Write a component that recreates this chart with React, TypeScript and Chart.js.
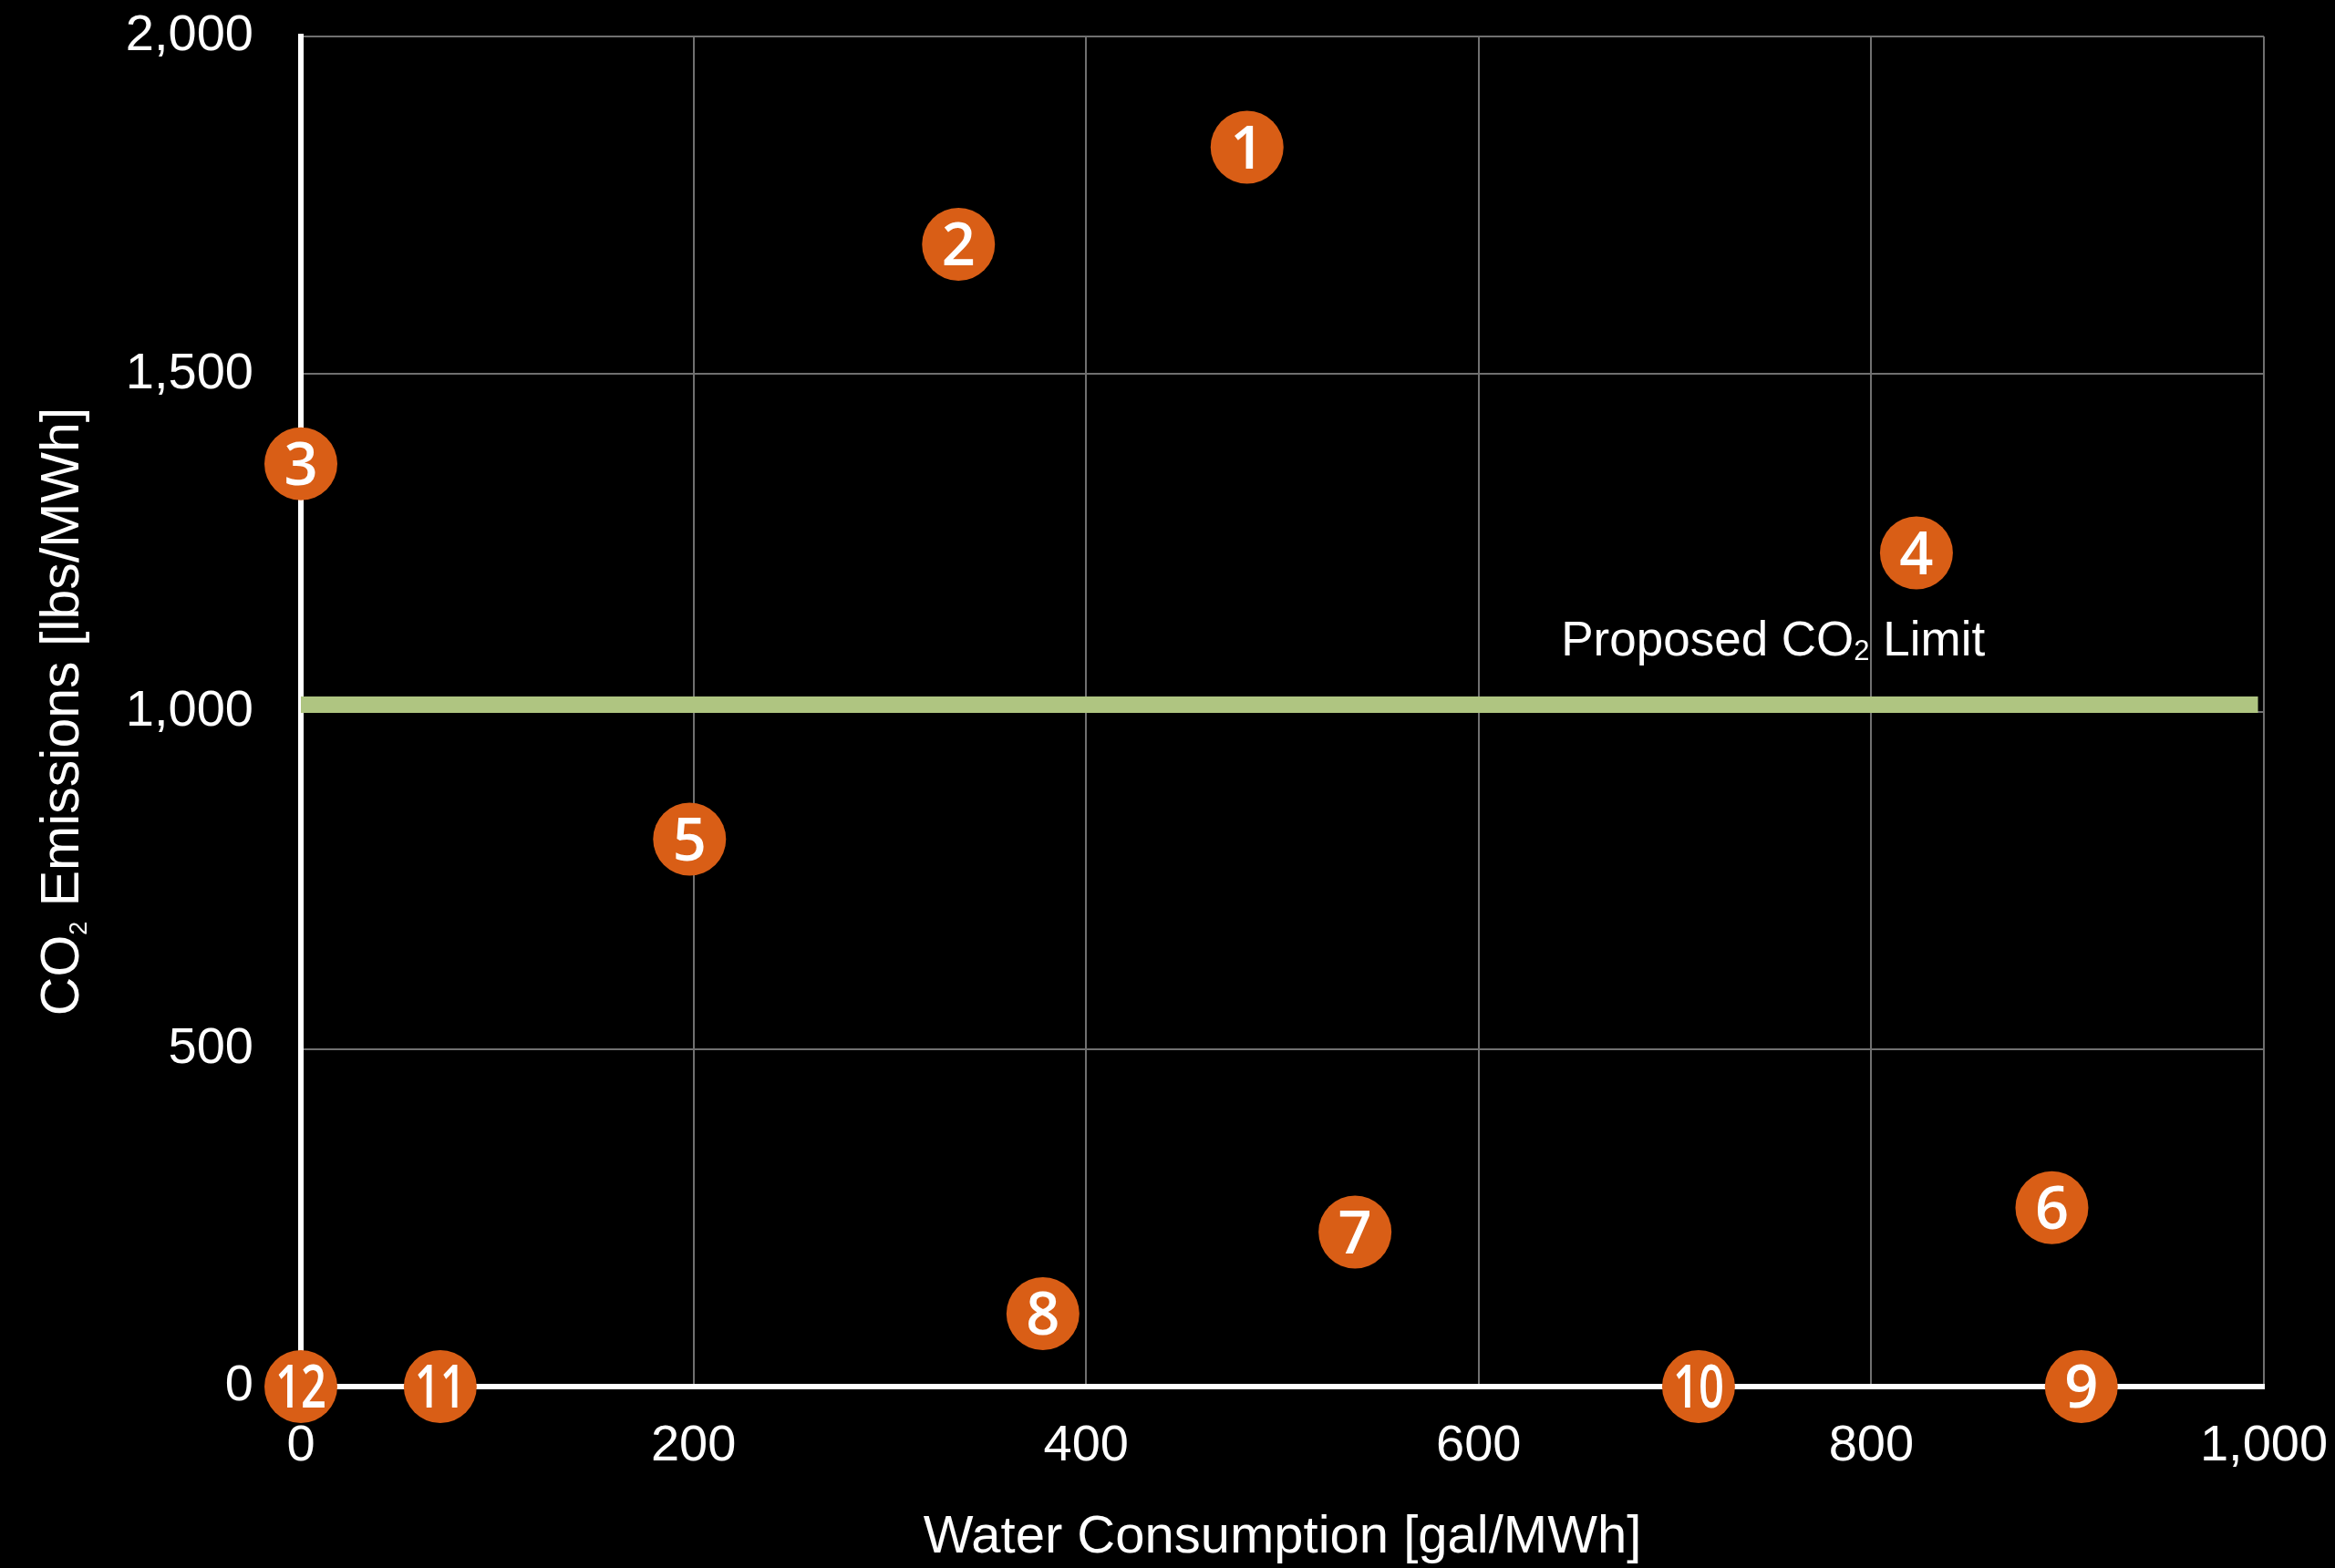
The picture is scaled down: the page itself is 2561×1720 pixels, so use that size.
import { useEffect, useRef } from 'react';
import { Chart, registerables } from 'chart.js';

Chart.register(...registerables);

// Power plant identifiers shown inside each marker
const plantIds = [1, 2, 3, 4, 5, 6, 7, 8, 9, 10, 11, 12];
// Water consumption per plant [gal/MWh]
const waterUse = [482, 335, 0, 823, 198, 892, 537, 378, 907, 712, 71, 0];
// CO2 emissions per plant [lbs/MWh]
const co2Emissions = [1836, 1692, 1367, 1235, 811, 265, 229, 108, 0, 0, 0, 0];

// Proposed emission limit and the water range it spans
const co2Limit = 1010;
const limitSpan = [0, 997];

// Axis ranges and tick spacing
const xRange = [0, 1000];
const xStep = 200;
const yRange = [0, 2000];
const yStep = 500;

const SANS = '"Liberation Sans", Arial, Helvetica, sans-serif';
const ORANGE = '#D95E16';
const GREEN = '#AFC581';
const GRID = '#707070';

const fmt = (v: number) => Number(v).toLocaleString('en-US');

const background = {
  id: 'background',
  beforeDraw(chart: any) {
    const { ctx, width, height } = chart;
    ctx.save();
    ctx.fillStyle = '#000';
    ctx.fillRect(0, 0, width, height);
    ctx.restore();
  },
};

type Run = { t: string; size: number; dy: number };

// Draws text runs with optional subscript pieces, starting at (x, y) baseline
function drawRuns(ctx: CanvasRenderingContext2D, runs: Run[], x: number, y: number) {
  let cx = x;
  for (const r of runs) {
    ctx.font = `${r.size}px ${SANS}`;
    ctx.fillText(r.t, cx, y + r.dy);
    cx += ctx.measureText(r.t).width;
  }
}
function runsWidth(ctx: CanvasRenderingContext2D, runs: Run[]) {
  let w = 0;
  for (const r of runs) {
    ctx.font = `${r.size}px ${SANS}`;
    w += ctx.measureText(r.t).width;
  }
  return w;
}

const annotations = {
  id: 'annotations',
  afterDatasetsDraw(chart: any) {
    const { ctx, scales } = chart;
    ctx.save();
    ctx.fillStyle = '#fff';
    ctx.textAlign = 'left';
    ctx.textBaseline = 'alphabetic';

    // Limit label above the green line
    const labelRuns: Run[] = [
      { t: 'Proposed CO', size: 53, dy: 0 },
      { t: '2', size: 31, dy: 5 },
      { t: ' Limit', size: 53, dy: 0 },
    ];
    const lx = scales.x.getPixelForValue(642);
    const ly = scales.y.getPixelForValue(co2Limit) - 54;
    drawRuns(ctx, labelRuns, lx, ly);

    // Plant numbers inside markers
    const meta = chart.getDatasetMeta(1);
    const size = 65;
    ctx.font = `600 ${size}px "Open Sans", Lato, sans-serif`;
    ctx.textAlign = 'center';
    meta.data.forEach((pt: any, i: number) => {
      const label = String(plantIds[i]);
      const w = ctx.measureText(label).width;
      const maxW = 56;
      const sx = w > maxW ? maxW / w : 1;
      ctx.save();
      ctx.translate(pt.x, pt.y + size * 0.357);
      ctx.scale(sx, 1);
      ctx.fillText(label, 0, 0);
      ctx.restore();
    });

    ctx.restore();
  },
  afterDraw(chart: any) {
    const { ctx, chartArea } = chart;
    // Vertical axis title with subscript
    const runs: Run[] = [
      { t: 'CO', size: 59, dy: 0 },
      { t: '2', size: 27, dy: 9 },
      { t: ' Emissions [lbs/MWh]', size: 59, dy: 0 },
    ];
    ctx.save();
    ctx.fillStyle = '#fff';
    ctx.textAlign = 'left';
    ctx.textBaseline = 'alphabetic';
    const w = runsWidth(ctx, runs);
    const cy = (chartArea.top + chartArea.bottom) / 2;
    ctx.translate(86, cy);
    ctx.rotate(-Math.PI / 2);
    drawRuns(ctx, runs, -w / 2, 0);
    ctx.restore();
  },
};

export default function App() {
  const canvasRef = useRef<HTMLCanvasElement | null>(null);

  useEffect(() => {
    document.body.style.margin = '0';
    document.body.style.background = '#000';
    const canvas = canvasRef.current;
    if (!canvas) return;

    const limitLine = limitSpan.map((x) => ({ x, y: co2Limit }));
    const plants = waterUse.map((x, i) => ({ x, y: co2Emissions[i] }));

    const chart = new Chart(canvas, {
      type: 'scatter',
      data: {
        datasets: [
          {
            label: 'Proposed CO2 Limit',
            data: limitLine,
            showLine: true,
            borderColor: GREEN,
            borderWidth: 18,
            borderCapStyle: 'butt',
            pointRadius: 0,
            order: 2,
            clip: false,
          } as any,
          {
            label: 'Plants',
            data: plants,
            backgroundColor: ORANGE,
            borderWidth: 0,
            pointRadius: 40,
            pointHoverRadius: 40,
            order: 1,
            clip: false,
          } as any,
        ],
      },
      options: {
        animation: false,
        responsive: false,
        events: [],
        layout: { padding: { top: 37, right: 78, bottom: 0, left: 0 } },
        plugins: {
          legend: { display: false },
          tooltip: { enabled: false },
        },
        scales: {
          x: {
            type: 'linear',
            min: xRange[0],
            max: xRange[1],
            ticks: {
              stepSize: xStep,
              color: '#fff',
              font: { family: SANS, size: 56 },
              padding: 32,
              maxRotation: 0,
              callback: (v: any) => fmt(v),
            },
            grid: { color: GRID, lineWidth: 2, drawTicks: false },
            border: { color: '#fff', width: 6 },
            title: {
              display: true,
              text: 'Water Consumption [gal/MWh]',
              color: '#fff',
              font: { family: SANS, size: 58, lineHeight: 1 },
              padding: { top: 0, bottom: 4 },
            },
            afterFit: (s: any) => {
              s.height = 199;
              s.paddingLeft = 0;
              s.paddingRight = 0;
            },
          },
          y: {
            type: 'linear',
            min: yRange[0],
            max: yRange[1],
            ticks: {
              stepSize: yStep,
              color: '#fff',
              font: { family: SANS, size: 56 },
              padding: 52,
              callback: (v: any) => fmt(v),
            },
            grid: { color: GRID, lineWidth: 2, drawTicks: false },
            border: { color: '#fff', width: 6 },
            title: { display: false },
            afterFit: (s: any) => {
              s.width = 330;
              s.paddingTop = 0;
              s.paddingBottom = 0;
            },
          },
        },
      } as any,
      plugins: [background, annotations],
    });

    return () => chart.destroy();
  }, []);

  return (
    <div style={{ position: 'fixed', left: 0, top: 0, width: 2561, height: 1720, background: '#000' }}>
      <canvas ref={canvasRef} width={2561} height={1720} style={{ display: 'block', width: 2561, height: 1720 }} />
    </div>
  );
}
